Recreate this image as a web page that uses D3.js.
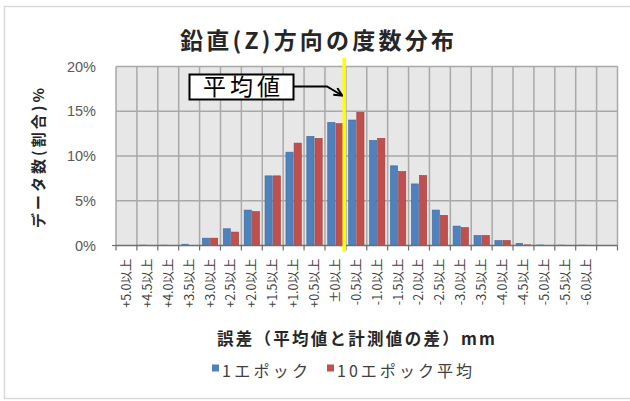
<!DOCTYPE html>
<html><head><meta charset="utf-8">
<script src="https://cdn.jsdelivr.net/npm/d3@7"></script>
<style>body{margin:0;background:#fff}svg{display:block}</style>
</head><body><svg id="c" width="630" height="401"></svg>
<script>
const categories = ["+5.0以上","+4.5以上","+4.0以上","+3.5以上","+3.0以上","+2.5以上","+2.0以上","+1.5以上","+1.0以上","+0.5以上","±0以上","-0.5以上","-1.0以上","-1.5以上","-2.0以上","-2.5以上","-3.0以上","-3.5以上","-4.0以上","-4.5以上","-5.0以上","-5.5以上","-6.0以上",""];
const binStart = [5.0,4.5,4.0,3.5,3.0,2.5,2.0,1.5,1.0,0.5,0,-0.5,-1.0,-1.5,-2.0,-2.5,-3.0,-3.5,-4.0,-4.5,-5.0,-5.5,-6.0,-6.5];
const seriesNames = ["1エポック","10エポック平均"];
const epoch1 = [0,0.08,0.08,0.18,0.82,1.87,3.96,7.78,10.43,12.19,13.76,14.02,11.74,8.9,6.88,3.96,2.17,1.12,0.55,0.28,0.1,0.08,0.08,0];
const epoch10 = [0,0,0,0,0.82,1.5,3.78,7.78,11.44,11.97,13.61,14.88,11.97,8.26,7.82,3.37,1.99,1.12,0.55,0.12,0.04,0,0,0];
const yTicks = [0,5,10,15,20];
const meanError = -0.21;
const title = "鉛直(Z)方向の度数分布";
const yTitle = "データ数(割合)%";
const xTitle = "誤差（平均値と計測値の差）mm";
const calloutText = "平均値";
const colors = ["#4f81bd","#c0504d"];
const strokes = ["#3d6a9e","#9c3c39"];

const svg = d3.select("#c");
const L = 116, R = 617.5, T = 66.5, B = 245.5;

svg.append("rect").attr("x",4.5).attr("y",6.5).attr("width",640).attr("height",392)
  .attr("fill","#fff").attr("stroke","#d9d9d9").attr("stroke-width",1.5);

const x = d3.scaleBand().domain(categories.map((c,i)=>i)).range([L,R]).padding(0);
const xs = d3.scaleBand().domain([0,1]).range([0,x.bandwidth()]).paddingInner(0.12).paddingOuter(0.34);
const y = d3.scaleLinear().domain([0,20]).range([B,T]);
const xv = d3.scaleLinear().domain([binStart[0], binStart[binStart.length-1]])
  .range([x(0)+x.bandwidth()/2, x(categories.length-1)+x.bandwidth()/2]);

svg.append("rect").attr("x",L).attr("y",T).attr("width",R-L).attr("height",B-T).attr("fill","#e7e7e7");

svg.append("g").selectAll("line").data(yTicks.slice(1)).join("line")
  .attr("x1",L).attr("x2",R).attr("y1",d=>y(d)).attr("y2",d=>y(d))
  .attr("stroke","#a9a9a9").attr("stroke-width",1.5);
const bounds = d3.range(categories.length+1).map(i=>L + i*x.step());
svg.append("g").selectAll("line").data(bounds).join("line")
  .attr("x1",d=>d).attr("x2",d=>d).attr("y1",T).attr("y2",B)
  .attr("stroke","#a9a9a9").attr("stroke-width",1.5);

const series = [epoch1, epoch10];
series.forEach((vals,s)=>{
  svg.append("g").selectAll("rect").data(vals).join("rect")
    .attr("x",(d,i)=>x(i)+xs(s)).attr("width",xs.bandwidth())
    .attr("y",d=>y(d)).attr("height",d=>B-y(d))
    .attr("fill",colors[s]).attr("stroke",d=>d>0.3?strokes[s]:"none").attr("stroke-width",0.6);
});

svg.append("line").attr("x1",L).attr("x2",R).attr("y1",B).attr("y2",B).attr("stroke","#6e6e6e").attr("stroke-width",1.5);
svg.append("g").selectAll("line").data(bounds).join("line")
  .attr("x1",d=>d).attr("x2",d=>d).attr("y1",B).attr("y2",B+5)
  .attr("stroke","#6e6e6e").attr("stroke-width",1.2);
svg.append("line").attr("x1",L-4).attr("x2",L).attr("y1",B).attr("y2",B).attr("stroke","#6e6e6e").attr("stroke-width",1.2);

svg.append("g").selectAll("text").data(categories).join("text")
  .attr("transform",(d,i)=>`translate(${x(i)+x.bandwidth()/2+4.5},${B+13}) rotate(-90)`)
  .attr("text-anchor","end").attr("font-family","'Noto Sans CJK JP'").attr("font-size",12.5)
  .attr("fill","#404040").text(d=>d);

svg.append("g").selectAll("text").data(yTicks).join("text")
  .attr("x",96).attr("y",d=>y(d)+5).attr("text-anchor","end")
  .attr("font-family","'Liberation Sans', 'Noto Sans'").attr("font-size",14.5).attr("fill","#595959")
  .text(d=>d+"%");

svg.append("text").attr("x",317).attr("y",49).attr("text-anchor","middle")
  .attr("font-family","'Noto Sans CJK JP'").attr("font-weight","bold").attr("font-size",23)
  .attr("fill","#262626").attr("textLength",274).attr("lengthAdjust","spacing").text(title);

svg.append("text").attr("transform","translate(44,158) rotate(-90)").attr("text-anchor","middle")
  .attr("font-family","'Noto Sans CJK JP'").attr("font-weight","bold").attr("font-size",15)
  .attr("fill","#262626").attr("textLength",140).attr("lengthAdjust","spacing").text(yTitle);

svg.append("text").attr("x",356).attr("y",345).attr("text-anchor","middle")
  .attr("font-family","'Noto Sans CJK JP'").attr("font-weight","bold").attr("font-size",16.5)
  .attr("fill","#262626").attr("textLength",278).attr("lengthAdjust","spacing").text(xTitle);

const lg = [{x:212, w:86},{x:327, w:135}];
lg.forEach((p,i)=>{
  svg.append("rect").attr("x",p.x).attr("y",364.5).attr("width",7).attr("height",7).attr("fill",colors[i]);
  svg.append("text").attr("x",p.x+10).attr("y",376.5).attr("font-family","'Noto Sans CJK JP'")
    .attr("font-size",16).attr("fill","#404040").attr("textLength",p.w).attr("lengthAdjust","spacing").text(seriesNames[i]);
});

const mx = xv(meanError);
svg.append("line").attr("x1",mx).attr("x2",mx).attr("y1",58).attr("y2",252)
  .attr("stroke","#ffff00").attr("stroke-width",3.5);

svg.append("defs").append("marker").attr("id","ah").attr("viewBox","0 0 10 10").attr("refX",9).attr("refY",5)
  .attr("markerWidth",5).attr("markerHeight",5).attr("orient","auto")
  .append("path").attr("d","M1,1 L9,5 L1,9").attr("fill","none").attr("stroke","#000").attr("stroke-width",2);
svg.append("path").attr("d",`M294,86.5 L327,86.5 L${mx-2},95.5`).attr("fill","none")
  .attr("stroke","#000").attr("stroke-width",2).attr("marker-end","url(#ah)");
svg.append("rect").attr("x",189.5).attr("y",74.5).attr("width",104).attr("height",25)
  .attr("fill","#fff").attr("stroke","#000").attr("stroke-width",2);
svg.append("text").attr("x",241.5).attr("y",95).attr("text-anchor","middle")
  .attr("font-family","'Noto Sans CJK JP'").attr("font-size",23).attr("fill","#000")
  .attr("textLength",77).attr("lengthAdjust","spacing").text(calloutText);
</script></body></html>
